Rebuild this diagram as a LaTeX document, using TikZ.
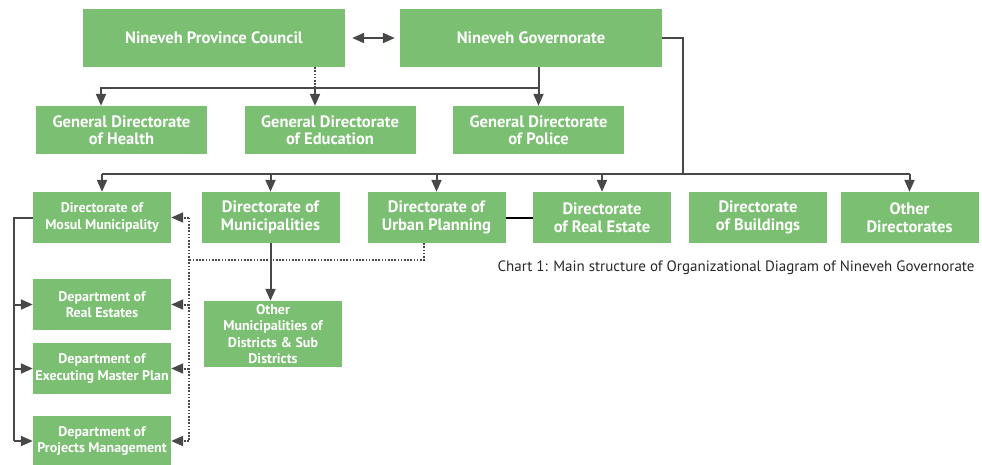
\documentclass[tikz,border=0pt]{standalone}
\usepackage{fontspec}
\setmainfont{PT Sans}
\usetikzlibrary{arrows.meta}
\definecolor{boxgreen}{RGB}{123,191,114}
\definecolor{linegray}{RGB}{72,72,72}
\definecolor{captiongray}{RGB}{40,40,40}
\tikzset{
  box/.style={fill=boxgreen, text=white, align=center, inner sep=0pt,
    font=\bfseries\fontsize{16.5}{17.5}\selectfont},
  small/.style={font=\bfseries\fontsize{14}{16.5}\selectfont},
  link/.style={draw=linegray, line width=2pt},
  dotlink/.style={link, dash pattern=on 1.6pt off 1.6pt},
  tip/.style={-{Triangle[length=12pt,width=10pt]}},
}

\begin{document}
\begin{tikzpicture}[x=1pt,y=-1pt]
  \useasboundingbox (0,0) rectangle (982,464);
  \node[box, minimum width=262, minimum height=58] (council) at (214,38) {Nineveh Province Council};
  \node[box, minimum width=262, minimum height=58] (gov) at (531,38) {Nineveh Governorate};
  \foreach \n/\x/\t in {health/121.5/{General Directorate\\of Health}, edu/330/{General Directorate\\of Education}, police/538.5/{General Directorate\\of Police}}
    \node[box, minimum width=171, minimum height=48] (\n) at (\x,130) {\t};
  \node[box, small, minimum width=138, minimum height=51] (mosul) at (102,217.5) {Directorate of\\Mosul Municipality};
  \foreach \n/\x/\t in {munic/270.5/{Directorate of\\Municipalities}, urban/436.5/{Directorate of\\Urban Planning}, realest/602/{Directorate\\of Real Estate}, build/758/{Directorate\\of Buildings}, other/909.5/{Other\\Directorates}}
    \node[box, minimum width=138, minimum height=51] (\n) at (\x,217.5) {\t};
  \foreach \n/\y/\t in {dre/304.5/{Department of\\Real Estates}, dmp/368.5/{Department of\\Executing Master Plan}, dpm/441/{Department of\\Projects Management}}
    \node[box, small, minimum width=138, minimum height=51] (\n) at (102,\y) {\t};
  \node[box, small, minimum width=138, minimum height=66] (omun) at (273,334) {Other\\Municipalities of\\Districts \& Sub\\Districts};
  \node[anchor=east, text=captiongray, font=\fontsize{15}{17}\selectfont] (caption) at (978,268) {Chart 1: Main structure of Organizational Diagram of Nineveh Governorate};

  \coordinate (bus) at (683,174);
  \coordinate (lbar) at (14,0);
  \coordinate (rbar) at (189,0);

  \draw[link, {Triangle[length=12pt,width=10pt]}-{Triangle[length=12pt,width=10pt]}, shorten <=7pt, shorten >=5pt] (council) -- (gov);
  \draw[link, tip] (gov.south -| police) -- (police.north);
  \draw[link, tip] (police.north |- 0,88) -| ([xshift=-20.5]health.north);
  \draw[dotlink] ([xshift=-15]edu.north |- council.south) -- ([xshift=-15]edu.north |- 0,88);
  \draw[link, tip] ([xshift=-15]edu.north |- 0,88) -- ([xshift=-15]edu.north);

  \draw[link] (gov.east) -| (bus);
  \draw[link] (mosul.north |- bus) -- (other.north |- bus);
  \foreach \n in {mosul,munic,urban,realest,other}
    \draw[link, tip] (\n.north |- bus) -- (\n.north);
  \draw[black, line width=2pt] (urban.east) -- (realest.west);
  \draw[link, tip] (munic.south) -- (munic.south |- omun.north);

  \draw[link] (mosul.west) -| (lbar |- dpm.west);
  \foreach \n in {dre,dmp,dpm}
    \draw[link, tip] (lbar |- \n.west) -- (\n.west);
  \draw[dotlink] ([xshift=-12.5]urban.south) |- (rbar |- 0,260);
  \draw[dotlink] (rbar |- mosul.east) -- (rbar |- dpm.east);
  \foreach \n in {mosul,dre,dmp,dpm}
    \draw[dotlink, tip] (rbar |- \n.east) -- (\n.east);
\end{tikzpicture}
\end{document}
